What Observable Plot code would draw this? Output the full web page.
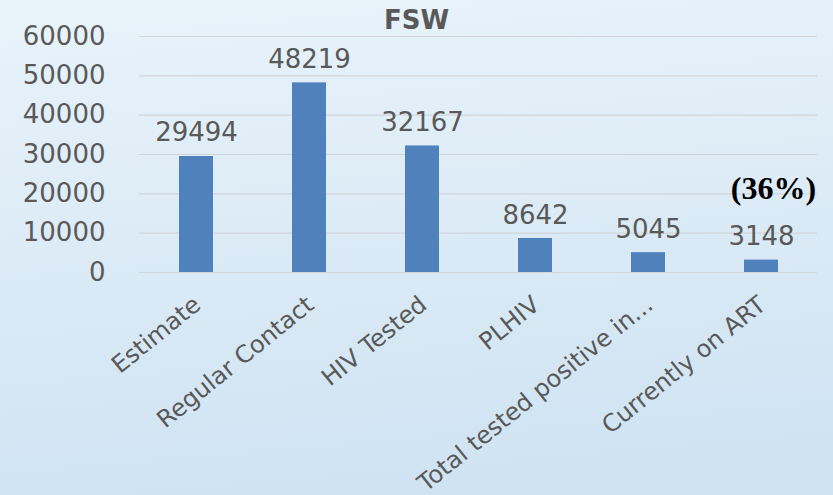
<!DOCTYPE html>
<html>
<head>
<meta charset="utf-8">
<script src="https://cdn.jsdelivr.net/npm/d3@7"></script>
<script src="https://cdn.jsdelivr.net/npm/@observablehq/plot@0.6"></script>
<style>
  html, body { margin: 0; padding: 0; }
  body {
    width: 833px; height: 495px; overflow: hidden;
    background: linear-gradient(175deg, #e9f3fa 0%, #dcebf6 45%, #cde2f2 100%);
  }
  #chart svg { display: block; }
</style>
</head>
<body>
<div id="chart"></div>
<script>
const title = "FSW";
const categories = ["Estimate", "Regular Contact", "HIV Tested", "PLHIV", "Total tested positive in...", "Currently on ART"];
const values = [29494, 48219, 32167, 8642, 5045, 3148];
const yTicks = [0, 10000, 20000, 30000, 40000, 50000, 60000];
const annotationCategory = ["Currently on ART"];
const annotationText = ["(36%)"];

const data = categories.map((c, i) => ({category: c, value: values[i]}));
const annotations = annotationCategory.map((c, i) => ({
  category: c,
  value: values[categories.indexOf(c)],
  label: annotationText[i]
}));

const textColor = "#595959";

const chart = Plot.plot({
  width: 833,
  height: 495,
  marginLeft: 139,
  marginRight: 16,
  marginTop: 36,
  marginBottom: 223,
  style: {
    background: "transparent",
    fontFamily: "DejaVu Sans",
    fontSize: "24px",
    color: textColor,
    overflow: "visible"
  },
  x: {domain: categories, paddingInner: 0.7, paddingOuter: 0.35, label: null},
  y: {domain: [0, 60000], label: null},
  marks: [
    Plot.gridY(yTicks, {stroke: "#d2d6da", strokeOpacity: 1, strokeWidth: 1.2}),
    Plot.barY(data, {x: "category", y: "value", fill: "#4f81bd"}),
    Plot.axisY(yTicks, {
      tickSize: 0, tickPadding: 34, tickFormat: d => String(d),
      fontSize: 26, fill: textColor, letterSpacing: 1, label: null
    }),
    Plot.axisX({
      tickSize: 0, tickRotate: -39, tickPadding: 20, fill: textColor,
      fontSize: 24, label: null, dy: 9, dx: 1
    }),
    Plot.text(data, {
      x: "category", y: "value", text: d => String(d.value),
      dy: -15, lineAnchor: "bottom", fontSize: 26, fill: textColor, letterSpacing: 1
    }),
    Plot.text(annotations, {
      x: "category", y: "value", text: "label",
      dx: 12, dy: -61, lineAnchor: "bottom",
      fontFamily: "Liberation Serif", fontWeight: "bold", fontSize: 32, fill: "#000000"
    }),
    Plot.text([title], {
      frameAnchor: "top", dx: -62, dy: -8, lineAnchor: "bottom",
      fontWeight: "bold", fontSize: 26, fill: textColor, letterSpacing: 3
    })
  ]
});

document.getElementById("chart").appendChild(chart);
</script>
</body>
</html>
